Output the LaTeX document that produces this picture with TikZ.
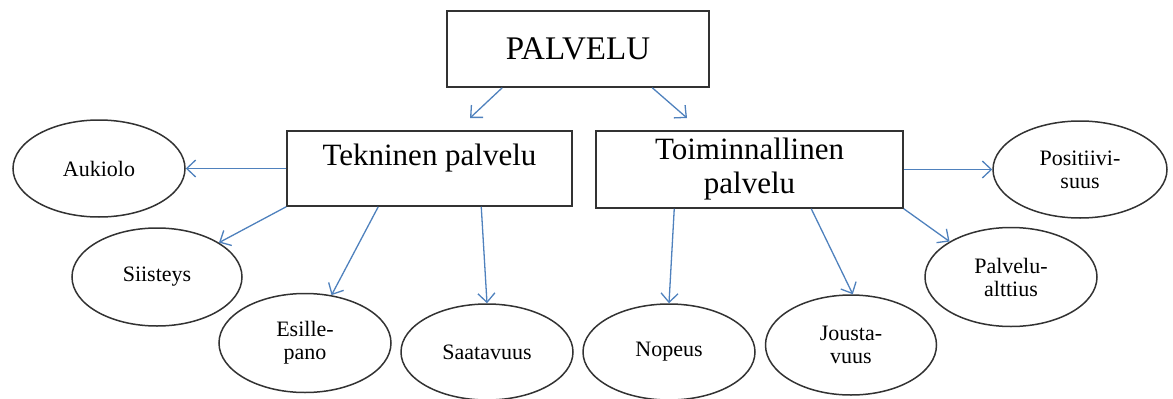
\documentclass[tikz,border=0pt]{standalone}
\usepackage{fontspec}
\setmainfont{Liberation Serif}
\usetikzlibrary{arrows.meta,shapes.geometric}
\definecolor{linkblue}{RGB}{79,129,189}
\definecolor{edgegray}{RGB}{50,50,50}
\begin{document}
\begin{tikzpicture}[x=1pt,y=-1pt,
  box/.style={draw=edgegray, line width=1.5pt, inner sep=0pt, rectangle},
  leaf/.style={draw=edgegray, line width=1.5pt, ellipse, inner sep=0pt,
    minimum width=172pt, minimum height=98pt,
    font=\fontsize{22}{23}\selectfont, align=center},
  link/.style={draw=linkblue, line width=1.3pt,
    -{Straight Barb[length=9pt,width=17pt,line width=1.3pt]}},
]
\useasboundingbox (0,0) rectangle (1173,399);

% main boxes
\node[box, minimum width=262pt, minimum height=76pt,
  font=\fontsize{33}{36}\selectfont] (pal) at (578,49) {PALVELU};
\node[box, minimum width=285pt, text height=34pt, text depth=41pt,
  font=\fontsize{31}{34}\selectfont] (tek) at (429.5,168.5) {Tekninen palvelu};
\node[box, minimum width=307pt, minimum height=77pt, align=center,
  font=\fontsize{31}{34}\selectfont] (toim) at (749.5,169.5) {Toiminnallinen\\palvelu};

% leaf ellipses
\node[leaf, minimum height=97pt] (aukiolo) at (99,168.5) {Aukiolo};
\node[leaf, minimum width=170pt] (siisteys) at (157,277) {Siisteys};
\node[leaf, minimum height=99pt] (esille) at (305,343) {Esille-\\pano};
\node[leaf, minimum height=96pt] (saata) at (487,352) {Saatavuus};
\node[leaf, minimum height=96pt] (nopeus) at (669,352) {Nopeus};
\node[leaf, minimum width=171pt, minimum height=100pt] (jousta) at (851,345) {Jousta-\\vuus};
\node[leaf, minimum height=99pt] (alttius) at (1011,277) {Palvelu-\\alttius};
\node[leaf, minimum width=174pt, minimum height=97pt] (posit) at (1080,169.5) {Positiivi-\\suus};

% free ends of the top arrows
\coordinate (pl) at (470,118);
\coordinate (pr) at (687,118);

% connectors
\draw[link] ([xshift=56pt]pal.south west) -- (pl);
\draw[link] ([xshift=206pt]pal.south west) -- (pr);

\draw[link] (tek.west) -- (aukiolo.east);
\draw[link] (tek.south west) -- (siisteys.29);
\draw[link] ([xshift=92pt]tek.south west) -- (esille.61);
\draw[link] ([xshift=195pt]tek.south west) -- (saata.north);

\draw[link] ([xshift=79pt]toim.south west) -- (nopeus.north);
\draw[link] ([xshift=216pt]toim.south west) -- (jousta.88);
\draw[link] (toim.south east) -- (alttius.150);
\draw[link] (toim.east) -- (posit.west);
\end{tikzpicture}
\end{document}
